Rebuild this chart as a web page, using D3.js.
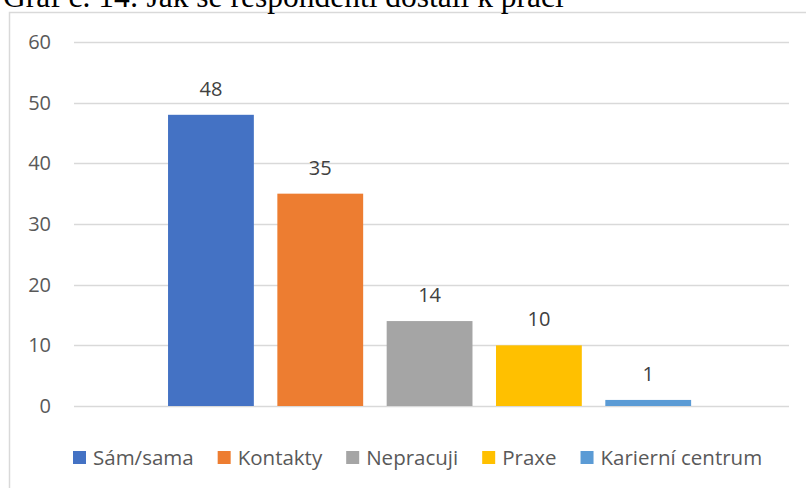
<!DOCTYPE html>
<html>
<head>
<meta charset="utf-8">
<script src="https://cdn.jsdelivr.net/npm/d3@7"></script>
<style>
  html, body { margin: 0; padding: 0; background: #fff; }
  svg { display: block; }
</style>
</head>
<body>
<svg id="chart" width="806" height="488"></svg>
<script>
const title = "Graf č. 14: Jak se respondenti dostali k práci";
const category = ["Způsob"];
const series = ["Sám/sama", "Kontakty", "Nepracuji", "Praxe", "Karierní centrum"];
const values = [48, 35, 14, 10, 1];
const colors = ["#4472C4", "#ED7D31", "#A5A5A5", "#FFC000", "#5B9BD5"];
const yTicks = [0, 10, 20, 30, 40, 50, 60];

const svg = d3.select("#chart");
const font = "'Open Sans', 'Noto Sans', sans-serif";

// chart area border
svg.append("rect")
  .attr("x", 9.5).attr("y", 12.5)
  .attr("width", 830).attr("height", 520)
  .attr("fill", "#fff").attr("stroke", "#d9d9d9").attr("stroke-width", 1.5);

// title (clipped at top, as in the source)
svg.append("text")
  .attr("x", 3).attr("y", 7)
  .attr("font-family", "'Liberation Serif', 'Times New Roman', serif")
  .attr("font-size", 31.5)
  .attr("fill", "#000")
  .text(title);

const plotLeft = 74, plotRight = 789, plotTop = 42, plotBottom = 406;

const y = d3.scaleLinear().domain([0, 60]).range([plotBottom, plotTop]);
const x0 = d3.scaleBand().domain(category).range([plotLeft, plotRight]).padding(0.155).align(0.49);
const x1 = d3.scaleBand().domain(series).range([0, x0.bandwidth()]).paddingInner(0.215).paddingOuter(0);

// gridlines
svg.append("g").selectAll("line").data(yTicks).join("line")
  .attr("x1", plotLeft).attr("x2", plotRight)
  .attr("y1", d => Math.round(y(d)) + 0.5).attr("y2", d => Math.round(y(d)) + 0.5)
  .attr("stroke", "#d9d9d9").attr("stroke-width", 1.5);

// y axis labels
const yAxis = d3.axisLeft(y).tickValues(yTicks).tickSize(0).tickPadding(0);
const ya = svg.append("g").attr("transform", `translate(51,0)`).call(yAxis);
ya.select(".domain").remove();
ya.selectAll("text")
  .attr("font-family", font).attr("font-size", 20).attr("fill", "#595959");

// bars
const data = series.map((s, i) => ({ s, v: values[i], c: colors[i] }));
const g = svg.append("g").attr("transform", `translate(${x0(category[0])},0)`);
g.selectAll("rect").data(data).join("rect")
  .attr("x", d => x1(d.s))
  .attr("y", d => y(d.v))
  .attr("width", x1.bandwidth())
  .attr("height", d => y(0) - y(d.v))
  .attr("fill", d => d.c);

g.selectAll("text.lbl").data(data).join("text")
  .attr("class", "lbl")
  .attr("x", d => x1(d.s) + x1.bandwidth() / 2)
  .attr("y", d => y(d.v) - 19)
  .attr("text-anchor", "middle")
  .attr("font-family", font).attr("font-size", 20).attr("fill", "#404040")
  .text(d => d.v);

// legend
const lg = svg.append("g");
let lx = 73;
const ly = 451, sq = 13;
data.forEach(d => {
  lg.append("rect").attr("x", lx).attr("y", ly).attr("width", sq).attr("height", sq).attr("fill", d.c);
  const t = lg.append("text")
    .attr("x", lx + sq + 7).attr("y", ly + sq + 1)
    .attr("font-family", font).attr("font-size", 20.5).attr("fill", "#595959")
    .text(d.s);
  lx = lx + sq + 7 + t.node().getComputedTextLength() + 24;
});
</script>
</body>
</html>
